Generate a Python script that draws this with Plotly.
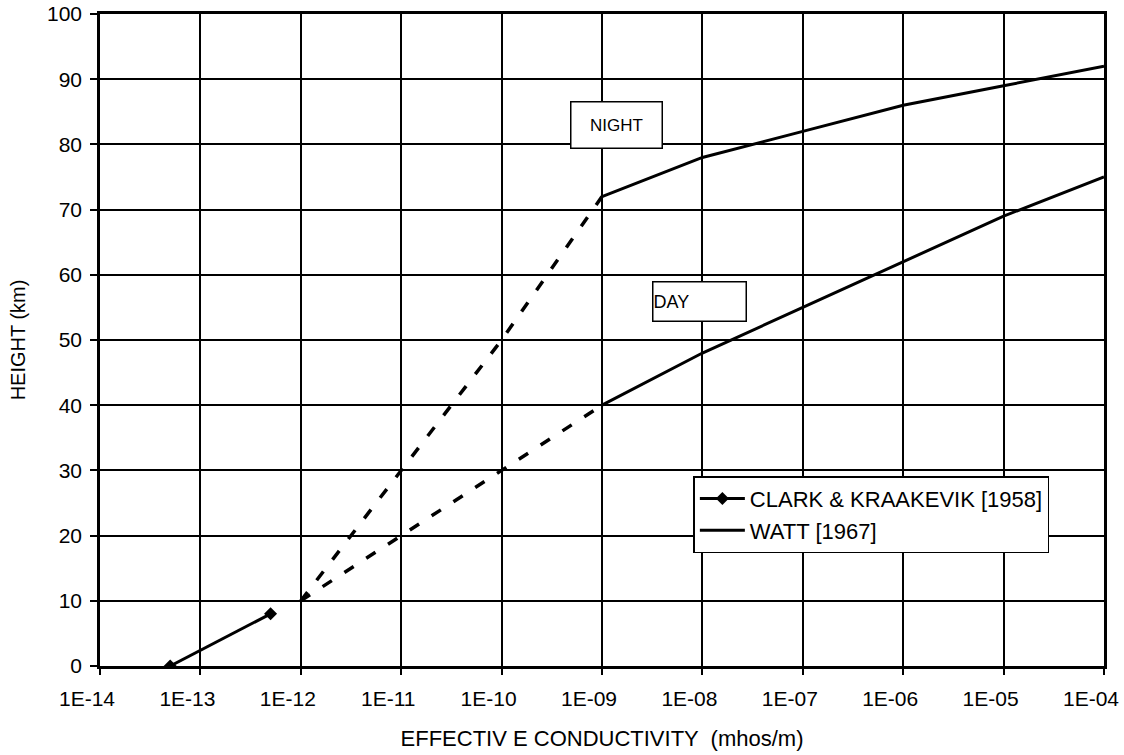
import plotly.graph_objects as go

# ---- data ----
x_ticks = [1e-14, 1e-13, 1e-12, 1e-11, 1e-10, 1e-9, 1e-8, 1e-7, 1e-6, 1e-5, 1e-4]
x_ticktext = ["1E-14", "1E-13", "1E-12", "1E-11", "1E-10", "1E-09", "1E-08", "1E-07", "1E-06", "1E-05", "1E-04"]
y_ticks = [0, 10, 20, 30, 40, 50, 60, 70, 80, 90, 100]

clark_x = [5e-14, 5e-13]
clark_y = [0, 8]

night_dash_x = [1e-12, 1e-11, 1e-10, 1e-9]
night_dash_y = [10, 30, 50, 72]
day_dash_x = [1e-12, 1e-11, 1e-10, 1e-9]
day_dash_y = [10, 20, 30, 40]

night_x = [1e-9, 1e-8, 1e-7, 1e-6, 1e-5, 1e-4]
night_y = [72, 78, 82, 86, 89, 92]
day_x = [1e-9, 1e-8, 1e-7, 1e-6, 1e-5, 1e-4]
day_y = [40, 48, 55, 62, 69, 75]

FONT = "Liberation Sans, Arial, sans-serif"

fig = go.Figure()
fig.add_trace(go.Scatter(x=clark_x, y=clark_y, mode="lines+markers",
                         name="CLARK & KRAAKEVIK [1958]", legendgroup="a",
                         line=dict(color="black", width=3),
                         marker=dict(symbol="diamond", size=10, color="black")))
fig.add_trace(go.Scatter(x=night_x, y=night_y, mode="lines", name="WATT [1967]",
                         legendgroup="b", line=dict(color="black", width=3)))
fig.add_trace(go.Scatter(x=day_x, y=day_y, mode="lines", showlegend=False,
                         legendgroup="b", line=dict(color="black", width=3)))
fig.add_trace(go.Scatter(x=night_dash_x, y=night_dash_y, mode="lines", showlegend=False,
                         line=dict(color="black", width=3.5, dash="11px,15px")))
fig.add_trace(go.Scatter(x=day_dash_x, y=day_dash_y, mode="lines", showlegend=False,
                         line=dict(color="black", width=3.5, dash="11px,15px")))

fig.update_layout(
    width=1124, height=755,
    margin=dict(l=100, r=20, t=14, b=89, autoexpand=False),
    paper_bgcolor="white", plot_bgcolor="white",
    font=dict(family=FONT, size=20, color="black"),
    showlegend=True,
    legend=dict(x=0.591, y=0.291, xanchor="left", yanchor="top",
                bordercolor="black", borderwidth=1.5, bgcolor="white",
                tracegroupgap=0, itemwidth=45, font=dict(size=22)),
    annotations=[
        dict(text="NIGHT", xref="paper", yref="paper", x=0.514, y=0.8305,
             xanchor="center", yanchor="middle", showarrow=False,
             bordercolor="black", borderwidth=1.5, borderpad=0, bgcolor="white",
             width=90, height=45, align="center", font=dict(size=17)),
        dict(text="DAY", xref="paper", yref="paper", x=0.5976, y=0.5598,
             xanchor="center", yanchor="middle", showarrow=False,
             bordercolor="black", borderwidth=1.5, borderpad=0, bgcolor="white",
             width=92, height=38, align="left", font=dict(size=18)),
    ],
)
fig.update_xaxes(type="log", range=[-14, -4], tickvals=x_ticks, ticktext=x_ticktext,
                 automargin=False,
                 showgrid=True, gridcolor="black", gridwidth=1.6,
                 showline=True, linecolor="black", linewidth=3, mirror=True,
                 ticks="outside", ticklen=6, tickwidth=1.5, tickcolor="black",
                 ticklabelshift=-13, ticklabelstandoff=6, zeroline=False,
                 tickfont=dict(size=21),
                 title=dict(text="EFFECTIV E CONDUCTIVITY  (mhos/m)", standoff=22,
                            font=dict(size=22)))
fig.update_yaxes(range=[0, 100], tickvals=y_ticks, automargin=False,
                 showgrid=True, gridcolor="black", gridwidth=1.6,
                 showline=True, linecolor="black", linewidth=2.5, mirror=True,
                 ticks="outside", ticklen=7, tickwidth=1.5, tickcolor="black",
                 ticklabelstandoff=4, zeroline=False,
                 tickfont=dict(size=21),
                 title=dict(text="HEIGHT (km)", standoff=17, font=dict(size=20)))

fig.write_html("out.html")
